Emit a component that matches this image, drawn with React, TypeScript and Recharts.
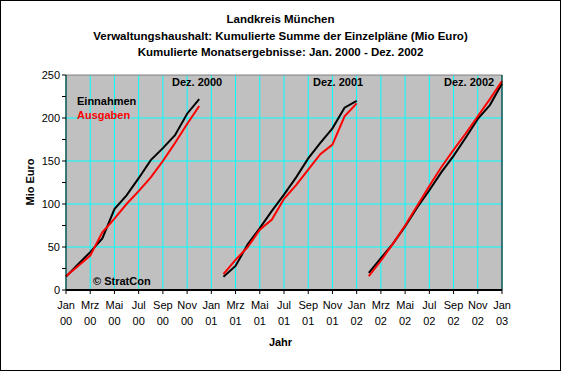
import { LineChart, Line, XAxis, YAxis, CartesianGrid, ReferenceLine } from 'recharts';

// month index 0 = Jan 2000 ... 36 = Jan 2003
const X_TICKS = [0, 2, 4, 6, 8, 10, 12, 14, 16, 18, 20, 22, 24, 26, 28, 30, 32, 34, 36];
const TICK_MONTHS = ['Jan', 'Mrz', 'Mai', 'Jul', 'Sep', 'Nov', 'Jan', 'Mrz', 'Mai', 'Jul', 'Sep', 'Nov', 'Jan', 'Mrz', 'Mai', 'Jul', 'Sep', 'Nov', 'Jan'];
const TICK_YEARS = ['00', '00', '00', '00', '00', '00', '01', '01', '01', '01', '01', '01', '02', '02', '02', '02', '02', '02', '03'];
const Y_TICKS = [0, 25, 50, 75, 100, 125, 150, 175, 200, 225, 250];
const GRID_Y = [50, 100, 150, 200];

// first month index of each year's series
const START_2000 = 0;
const START_2001 = 13;
const START_2002 = 25;

const EIN_2000 = [15.5, 30, 44, 60, 94, 110, 130, 151, 165, 180, 205, 222];
const AUS_2000 = [16, 28, 40, 67, 83, 100, 115, 131, 150, 171, 193, 214];
const EIN_2001 = [15.5, 28, 53, 72, 92, 111, 131, 153, 171, 188, 212, 220];
const AUS_2001 = [18.5, 35, 50, 70, 82, 106, 122, 140, 158, 169, 202, 217];
const EIN_2002 = [20, 37, 54, 74, 96, 116, 137, 156, 177, 199, 215, 240];
const AUS_2002 = [16, 34, 54, 75, 98, 121, 143, 163, 182, 202, 222, 243];

const rows: Record<string, number | null>[] = [];
for (let i = 0; i <= 36; i++) {
  rows.push({ x: i, e0: null, a0: null, e1: null, a1: null, e2: null, a2: null });
}
const fill = (key: string, start: number, values: number[]) => {
  values.forEach((v, i) => { rows[start + i][key] = v; });
};
fill('e0', START_2000, EIN_2000);
fill('a0', START_2000, AUS_2000);
fill('e1', START_2001, EIN_2001);
fill('a1', START_2001, AUS_2001);
fill('e2', START_2002, EIN_2002);
fill('a2', START_2002, AUS_2002);

const FONT = '"Liberation Sans", Arial, sans-serif';

const MonthTick = (props: any) => {
  const { x, y, payload } = props;
  const idx = X_TICKS.indexOf(payload.value);
  return (
    <text x={x} textAnchor="middle" fontFamily={FONT} fontSize={11} fill="#000">
      <tspan x={x} y={y + 13}>{TICK_MONTHS[idx]}</tspan>
      <tspan x={x} y={y + 29}>{TICK_YEARS[idx]}</tspan>
    </text>
  );
};

const yLabel = (v: number) => (v % 50 === 0 ? String(v) : '');

// horizontal grid only every 50
const gridRows = (props: any) => {
  const { yAxis, offset } = props;
  if (yAxis && typeof yAxis.scale === 'function') return GRID_Y.map((v) => yAxis.scale(v));
  return GRID_Y.map((v) => offset.top + offset.height * (1 - v / 250));
};

const txt = (extra: React.CSSProperties): React.CSSProperties => ({
  position: 'absolute',
  fontFamily: FONT,
  fontSize: 11,
  fontWeight: 'bold',
  lineHeight: '13px',
  whiteSpace: 'nowrap',
  ...extra,
});

export default function App() {
  return (
    <div style={{ position: 'absolute', left: 0, top: 0, width: 561, height: 371, background: '#fff' }}>
      <LineChart width={561} height={371} data={rows} margin={{ top: 75, right: 0, bottom: 0, left: 0 }}>
        <CartesianGrid
          yAxisId="left"
          stroke="#00FFFF"
          fill="#C0C0C0"
          fillOpacity={1}
          horizontalCoordinatesGenerator={gridRows}
        />
        <XAxis
          dataKey="x"
          type="number"
          domain={[0, 36]}
          ticks={X_TICKS}
          interval={0}
          height={81}
          tickSize={4}
          tick={<MonthTick />}
          axisLine={{ stroke: '#000', strokeWidth: 2 }}
          tickLine={{ stroke: '#000' }}
        />
        <YAxis
          yAxisId="left"
          domain={[0, 250]}
          ticks={Y_TICKS}
          interval={0}
          width={66}
          tickSize={4}
          tickFormatter={yLabel}
          tick={{ fontFamily: FONT, fontSize: 11, fill: '#000' }}
          axisLine={{ stroke: '#000' }}
          tickLine={{ stroke: '#000' }}
        />
        <YAxis
          yAxisId="right"
          orientation="right"
          domain={[0, 250]}
          ticks={Y_TICKS}
          interval={0}
          width={59}
          tickSize={4}
          tickMargin={4}
          tickFormatter={yLabel}
          tick={{ fontFamily: FONT, fontSize: 11, fill: '#000', textAnchor: 'start' }}
          axisLine={{ stroke: '#000' }}
          tickLine={{ stroke: '#000' }}
        />
        <ReferenceLine yAxisId="left" y={250} stroke="#808080" />
        <Line yAxisId="left" dataKey="e0" stroke="#000" strokeWidth={2} dot={false} isAnimationActive={false} connectNulls={false} />
        <Line yAxisId="left" dataKey="e1" stroke="#000" strokeWidth={2} dot={false} isAnimationActive={false} connectNulls={false} />
        <Line yAxisId="left" dataKey="e2" stroke="#000" strokeWidth={2} dot={false} isAnimationActive={false} connectNulls={false} />
        <Line yAxisId="left" dataKey="a0" stroke="#FF0000" strokeWidth={2} dot={false} isAnimationActive={false} connectNulls={false} />
        <Line yAxisId="left" dataKey="a1" stroke="#FF0000" strokeWidth={2} dot={false} isAnimationActive={false} connectNulls={false} />
        <Line yAxisId="left" dataKey="a2" stroke="#FF0000" strokeWidth={2} dot={false} isAnimationActive={false} connectNulls={false} />
      </LineChart>

      <div style={txt({ left: 0, top: 13, width: 561, textAlign: 'center', fontSize: 11.5 })}>Landkreis München</div>
      <div style={txt({ left: 0, top: 30, width: 561, textAlign: 'center', fontSize: 11.5 })}>Verwaltungshaushalt: Kumulierte Summe der Einzelpläne (Mio Euro)</div>
      <div style={txt({ left: 0, top: 46, width: 561, textAlign: 'center', fontSize: 11.5 })}>Kumulierte Monatsergebnisse: Jan. 2000 - Dez. 2002</div>

      <div style={txt({ left: 172, top: 76 })}>Dez. 2000</div>
      <div style={txt({ left: 313, top: 76 })}>Dez. 2001</div>
      <div style={txt({ left: 444, top: 76 })}>Dez. 2002</div>
      <div style={txt({ left: 77, top: 95 })}>Einnahmen</div>
      <div style={txt({ left: 77, top: 109, color: '#FF0000' })}>Ausgaben</div>
      <div style={txt({ left: 93, top: 275 })}>© StratCon</div>

      <div style={txt({ left: 0, top: 336, width: 561, textAlign: 'center' })}>Jahr</div>
      <div
        style={txt({
          left: 30,
          top: 182,
          transform: 'translate(-50%, -50%) rotate(-90deg)',
        })}
      >
        Mio Euro
      </div>

      <div style={{ position: 'absolute', left: 0, top: 0, width: 561, height: 371, boxSizing: 'border-box', border: '1px solid #000', pointerEvents: 'none' }} />
    </div>
  );
}
